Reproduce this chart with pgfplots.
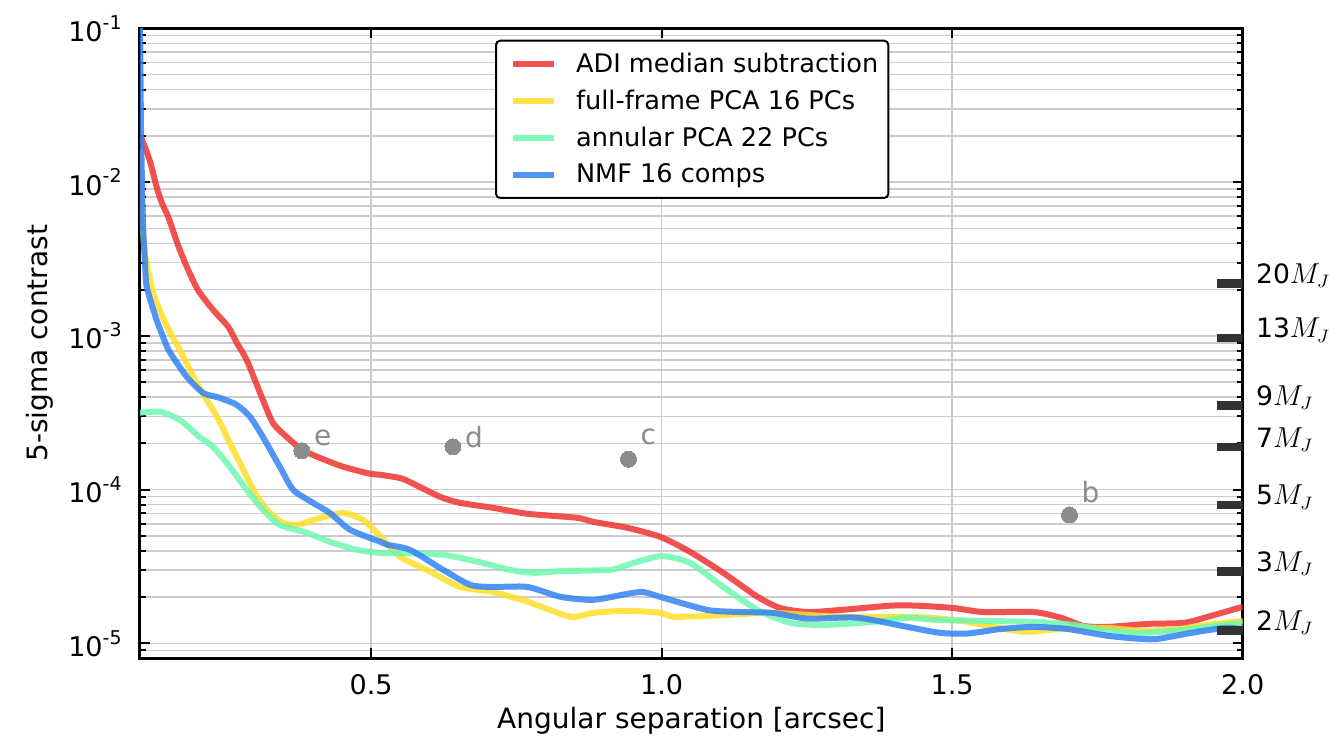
\documentclass[border=0pt]{standalone}
\usepackage{fontspec}
\setmainfont{DejaVu Sans}
\usepackage{pgfplots}
\pgfplotsset{compat=1.18}

\definecolor{cADI}{RGB}{238,52,48}
\definecolor{cFF}{RGB}{255,222,40}
\definecolor{cANN}{RGB}{110,248,175}
\definecolor{cNMF}{RGB}{50,130,245}
\definecolor{cGrid}{RGB}{204,204,204}
\definecolor{cPlanet}{RGB}{140,140,140}
\definecolor{cMass}{RGB}{50,50,50}

% decade label: 10 with a raised exponent
\newcommand{\dec}[1]{10\raisebox{0.45em}{\fontsize{9.5}{10}\selectfont #1}}

\begin{document}
\begin{tikzpicture}
\begin{axis}[
  scale only axis,
  width=551.35pt, height=314.95pt,
  xmin=0.1024, xmax=2.0,
  ymode=log, ymin=8e-6, ymax=0.1,
  xtick={0.5,1.0,1.5,2.0},
  xticklabels={0.5,1.0,1.5,2.0},
  ytick={1e-5,1e-4,1e-3,1e-2,1e-1},
  yticklabels={\dec{-5},\dec{-4},\dec{-3},\dec{-2},\dec{-1}},
  minor ytick={2e-6,3e-6,4e-6,5e-6,6e-6,7e-6,8e-6,9e-6,
               2e-5,3e-5,4e-5,5e-5,6e-5,7e-5,8e-5,9e-5,
               2e-4,3e-4,4e-4,5e-4,6e-4,7e-4,8e-4,9e-4,
               2e-3,3e-3,4e-3,5e-3,6e-3,7e-3,8e-3,9e-3,
               2e-2,3e-2,4e-2,5e-2,6e-2,7e-2,8e-2,9e-2},
  grid=both,
  major grid style={draw=cGrid, line width=0.8pt},
  minor grid style={draw=cGrid, line width=0.8pt},
  axis line style={line width=1.5pt},
  tick style={black, line width=1pt},
  major tick length=5pt,
  minor tick length=3pt,
  tick align=inside,
  tick label style={font=\fontsize{13.5}{15}\selectfont},
  yticklabel style={inner sep=0pt, xshift=-9pt},
  xticklabel style={inner sep=0pt, yshift=-8pt},
  xlabel={Angular separation [arcsec]},
  ylabel={5-sigma contrast},
  label style={font=\fontsize{14}{16}\selectfont},
  xlabel style={at={(axis description cs:0.5,0)}, anchor=center, yshift=-31pt},
  ylabel style={at={(axis description cs:-0.0907,0.5)}, anchor=center, rotate=0},
  clip mode=individual,
  legend cell align=left,
  legend style={at={(0.322,0.982)}, anchor=north west,
    draw=black, line width=1pt, rounded corners=2pt,
    font=\fontsize{12.8}{15}\selectfont,
    inner xsep=3pt, inner ysep=4pt, row sep=3.3pt, column sep=7.5pt},
  legend image code/.code={\path (0pt,0pt); \draw[#1, line width=3pt, line cap=butt] (4pt,0pt) -- (24.5pt,0pt);},
  curve/.style={line width=3pt, line join=round, opacity=0.85, smooth, tension=0.4},
]
\coordinate (SW) at (rel axis cs:0,0);
\coordinate (NE) at (rel axis cs:1,1);

% ADI median subtraction
\addplot[curve, draw=cADI] coordinates {
 (0.104,1.97e-2) (0.119,1.39e-2) (0.131,9.31e-3) (0.140,7.33e-3) (0.151,5.94e-3)
 (0.169,3.79e-3) (0.183,2.81e-3) (0.202,1.99e-3) (0.228,1.48e-3) (0.254,1.15e-3)
 (0.269,9.0e-4) (0.286,6.98e-4) (0.309,4.26e-4) (0.331,2.72e-4) (0.355,2.20e-4)
 (0.381,1.82e-4) (0.412,1.61e-4) (0.452,1.41e-4) (0.498,1.27e-4) (0.516,1.25e-4)
 (0.550,1.19e-4) (0.567,1.12e-4) (0.619,8.98e-5) (0.653,8.21e-5) (0.710,7.62e-5)
 (0.769,6.97e-5) (0.855,6.56e-5) (0.882,6.18e-5) (0.941,5.65e-5) (0.998,4.93e-5)
 (1.049,3.94e-5) (1.106,2.88e-5) (1.165,2.01e-5) (1.204,1.70e-5) (1.251,1.60e-5)
 (1.308,1.65e-5) (1.394,1.76e-5) (1.440,1.76e-5) (1.502,1.70e-5) (1.554,1.60e-5)
 (1.640,1.60e-5) (1.687,1.47e-5) (1.726,1.30e-5) (1.768,1.28e-5) (1.837,1.34e-5)
 (1.899,1.36e-5) (1.940,1.49e-5) (2.0,1.73e-5)
};
\addlegendentry{ADI median subtraction}

% full-frame PCA
\addplot[curve, draw=cFF] coordinates {
 (0.102,1.6e-2) (0.106,6.0e-3) (0.111,3.47e-3) (0.125,1.90e-3) (0.149,1.15e-3)
 (0.171,8.11e-4) (0.200,4.94e-4) (0.235,2.97e-4) (0.257,2.01e-4) (0.280,1.35e-4)
 (0.304,8.98e-5) (0.326,7.06e-5) (0.348,6.08e-5) (0.373,5.90e-5) (0.407,6.46e-5)
 (0.452,7.06e-5) (0.486,6.37e-5) (0.510,5.24e-5) (0.550,3.66e-5) (0.596,3.01e-5)
 (0.653,2.33e-5) (0.710,2.16e-5) (0.769,1.87e-5) (0.843,1.49e-5) (0.882,1.58e-5)
 (0.941,1.63e-5) (0.998,1.58e-5) (1.020,1.49e-5) (1.079,1.51e-5) (1.136,1.55e-5)
 (1.192,1.58e-5) (1.308,1.49e-5) (1.423,1.49e-5) (1.480,1.45e-5) (1.527,1.38e-5)
 (1.623,1.19e-5) (1.699,1.26e-5) (1.768,1.26e-5) (1.825,1.21e-5) (1.881,1.23e-5)
 (1.940,1.32e-5) (2.0,1.40e-5)
};
\addlegendentry{full-frame PCA 16 PCs}

% annular PCA
\addplot[curve, draw=cANN] coordinates {
 (0.102,3.16e-4) (0.137,3.21e-4) (0.171,2.84e-4) (0.205,2.20e-4) (0.228,1.90e-4)
 (0.257,1.41e-4) (0.286,9.97e-5) (0.314,7.40e-5) (0.343,5.90e-5) (0.390,5.24e-5)
 (0.429,4.58e-5) (0.476,4.06e-5) (0.516,3.88e-5) (0.538,3.88e-5) (0.624,3.77e-5)
 (0.683,3.40e-5) (0.739,3.01e-5) (0.779,2.88e-5) (0.826,2.95e-5) (0.912,3.01e-5)
 (0.941,3.24e-5) (0.970,3.50e-5) (1.003,3.70e-5) (1.049,3.34e-5) (1.106,2.33e-5)
 (1.165,1.65e-5) (1.222,1.36e-5) (1.279,1.32e-5) (1.365,1.38e-5) (1.423,1.47e-5)
 (1.480,1.42e-5) (1.640,1.38e-5) (1.709,1.32e-5) (1.768,1.21e-5) (1.825,1.17e-5)
 (1.881,1.21e-5) (1.940,1.28e-5) (2.0,1.36e-5)
};
\addlegendentry{annular PCA 22 PCs}

% NMF
\addplot[curve, draw=cNMF] coordinates {
 (0.102,0.2) (0.104,2.5e-2) (0.106,9.3e-3) (0.108,4.9e-3) (0.111,3.0e-3)
 (0.114,2.08e-3) (0.131,1.27e-3) (0.149,8.48e-4) (0.159,7.30e-4) (0.183,5.41e-4)
 (0.211,4.26e-4) (0.240,3.95e-4) (0.269,3.56e-4) (0.292,2.97e-4) (0.314,2.20e-4)
 (0.343,1.41e-4) (0.366,9.97e-5) (0.400,8.21e-5) (0.429,7.06e-5) (0.464,5.48e-5)
 (0.516,4.58e-5) (0.528,4.38e-5) (0.567,4.06e-5) (0.624,3.01e-5) (0.671,2.40e-5)
 (0.710,2.33e-5) (0.769,2.33e-5) (0.826,2.01e-5) (0.882,1.92e-5) (0.941,2.10e-5)
 (0.968,2.16e-5) (1.003,1.98e-5) (1.079,1.65e-5) (1.136,1.60e-5) (1.192,1.58e-5)
 (1.251,1.45e-5) (1.337,1.47e-5) (1.423,1.28e-5) (1.480,1.17e-5) (1.527,1.16e-5)
 (1.583,1.24e-5) (1.640,1.28e-5) (1.699,1.24e-5) (1.768,1.12e-5) (1.825,1.07e-5)
 (1.854,1.07e-5) (1.911,1.17e-5) (1.968,1.26e-5) (2.0,1.24e-5)
};
\addlegendentry{NMF 16 comps}

% planets
\addplot[only marks, mark=*, mark size=4pt, color=cPlanet,
  mark options={draw=cPlanet, fill=cPlanet, line width=0pt}, forget plot]
 coordinates {(0.381,1.79e-4) (0.641,1.90e-4) (0.943,1.58e-4) (1.702,6.85e-5)};
\begin{scope}[every node/.style={text=cPlanet, font=\fontsize{14}{16}\selectfont, inner sep=0pt}]
\node at (axis cs:0.417,2.17e-4) {e};
\node at (axis cs:0.677,2.20e-4) {d};
\node at (axis cs:0.977,2.20e-4) {c};
\node at (axis cs:1.738,9.7e-5) {b};
\end{scope}

% mass limits
\pgfplotsset{mass/.style={draw=cMass, line width=4.3pt, line cap=butt, forget plot}}
\addplot[mass] coordinates {(1.955,2.20e-3) (2.0,2.20e-3)};
\addplot[mass] coordinates {(1.955,9.7e-4) (2.0,9.7e-4)};
\addplot[mass] coordinates {(1.955,3.54e-4) (2.0,3.54e-4)};
\addplot[mass] coordinates {(1.955,1.89e-4) (2.0,1.89e-4)};
\addplot[mass] coordinates {(1.955,7.96e-5) (2.0,7.96e-5)};
\addplot[mass] coordinates {(1.955,2.93e-5) (2.0,2.93e-5)};
\addplot[mass] coordinates {(1.955,1.21e-5) (2.0,1.21e-5)};
\begin{scope}[every node/.style={anchor=base west, inner sep=0pt, xshift=6.5pt, font=\fontsize{13.3}{15}\selectfont}]
\node at (axis cs:2.0,2.20e-3) {20$M_J$};
\node at (axis cs:2.0,9.7e-4) {13$M_J$};
\node at (axis cs:2.0,3.54e-4) {9$M_J$};
\node at (axis cs:2.0,1.89e-4) {7$M_J$};
\node at (axis cs:2.0,7.96e-5) {5$M_J$};
\node at (axis cs:2.0,2.93e-5) {3$M_J$};
\node at (axis cs:2.0,1.21e-5) {2$M_J$};
\end{scope}
\end{axis}
\pgfresetboundingbox
\path[use as bounding box] ([xshift=-70pt,yshift=-39.85pt]SW) rectangle ([xshift=47.65pt,yshift=14.2pt]NE);
\end{tikzpicture}
\end{document}
